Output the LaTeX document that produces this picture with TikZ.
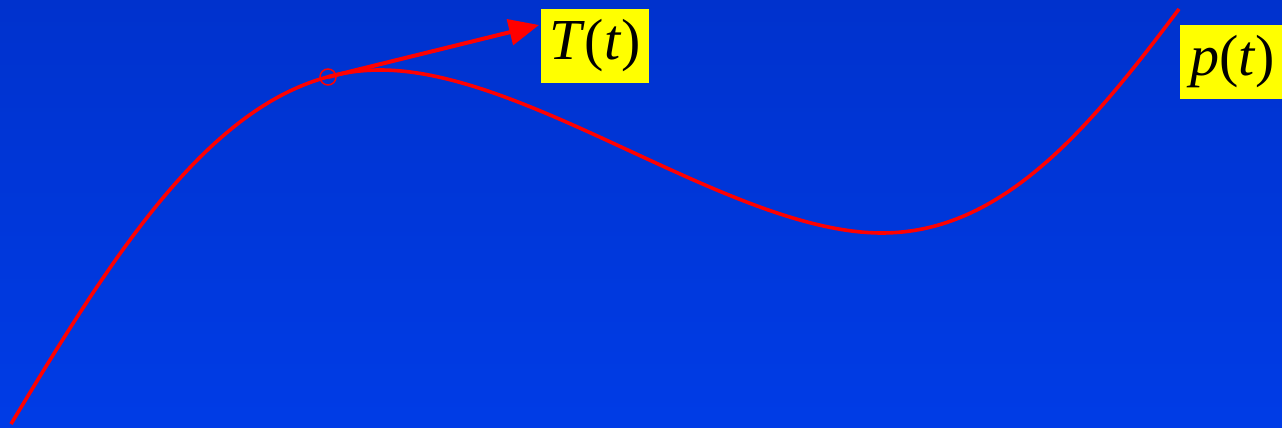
\documentclass[tikz,border=0pt]{standalone}
\usepackage{fontspec}
\setmainfont{Liberation Serif}
\usetikzlibrary{arrows.meta}
\definecolor{bgtop}{RGB}{0,50,205}
\definecolor{bgbot}{RGB}{0,60,230}
\definecolor{curvered}{RGB}{255,0,0}
\definecolor{labelyellow}{RGB}{255,255,0}
\tikzset{
  lbl/.style={fill=labelyellow, text=black, inner ysep=0pt,
    minimum height=74pt, font=\fontsize{58}{64}\selectfont},
  curveline/.style={draw=curvered, line width=3.6pt, line cap=butt},
  tangent/.style={draw=curvered, line width=4pt, -{Triangle[length=30pt,width=26pt]}},
  pointmark/.style={circle, draw=curvered, line width=1.5pt, minimum size=16pt, inner sep=0pt}
}
\begin{document}
\begin{tikzpicture}[x=1pt,y=-1pt]
  \useasboundingbox (0,0) rectangle (1282,428);
  \shade[top color=bgtop, bottom color=bgbot] (0,0) rectangle (1282,428);
  \draw[curveline] (11,424) .. controls (124.7,235.2) and (230,70) .. (380,70)
    .. controls (530,70) and (732,233) .. (882,233)
    .. controls (1002,233) and (1089,129) .. (1179,9);
  \node[pointmark] (pt) at (328,77) {};
  \node[lbl, minimum width=108pt, inner xsep=4pt] (T) at (595,46) {\textit{T}(\textit{t})};
  \node[lbl, anchor=west, inner xsep=10pt] (P) at (1180,62) {\textit{p}(\textit{t})};
  \coordinate (tip) at (539,25);
  \draw[tangent] (pt.center) -- (tip);
\end{tikzpicture}
\end{document}
